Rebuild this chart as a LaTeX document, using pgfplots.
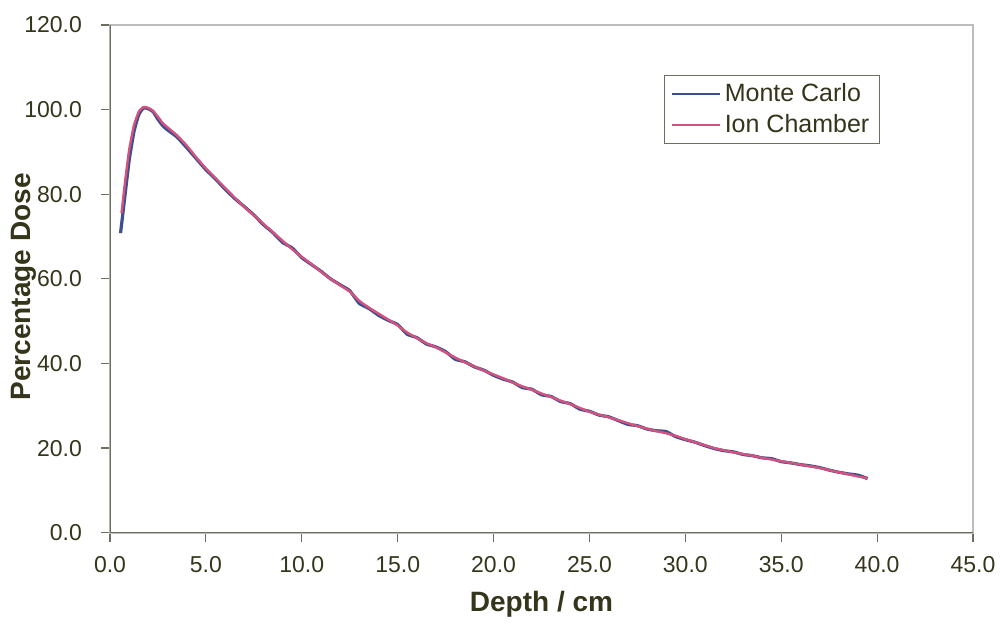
\documentclass[border=0pt]{standalone}
\usepackage{pgfplots}
\pgfplotsset{compat=1.18}
\usepackage{fontspec}
\setmainfont{Liberation Sans}
\definecolor{txt}{HTML}{35351C}
\definecolor{mcblue}{HTML}{3C4F8E}
\definecolor{icpink}{HTML}{D4527E}
\definecolor{axdark}{HTML}{6E6E60}
\definecolor{axlight}{HTML}{BDBDBD}
\pgfplotstableread{
x y
0.55 70.8
0.75 78.5
1.0 88.0
1.25 94.8
1.5 98.8
1.75 100.4
2.0 100.2
2.25 99.5
2.5 97.7
2.75 96.2
3.0 95.2
3.5 93.5
4.0 91.0
4.5 88.4
5.0 85.8
5.5 83.6
6.0 81.2
6.5 79.0
7.0 77.1
7.5 75.1
8.0 72.8
8.5 70.9
9.0 68.6
9.5 67.3
10.0 65.0
10.5 63.4
11.0 61.8
11.5 60.0
12.0 58.6
12.5 57.2
13.0 54.2
13.5 53.0
14.0 51.4
14.5 50.2
15.0 49.2
15.5 46.9
16.0 46.1
16.5 44.6
17.0 43.9
17.5 42.8
18.0 41.0
18.5 40.4
19.0 39.2
19.5 38.4
20.0 37.2
20.5 36.3
21.0 35.6
21.5 34.3
22.0 33.9
22.5 32.6
23.0 32.2
23.5 31.0
24.0 30.5
24.5 29.2
25.0 28.7
25.5 27.8
26.0 27.4
26.5 26.5
27.0 25.6
27.5 25.3
28.0 24.5
28.5 24.1
29.0 23.9
29.5 22.7
30.0 22.0
30.5 21.4
31.0 20.6
31.5 19.9
32.0 19.4
32.5 19.1
33.0 18.5
33.5 18.2
34.0 17.7
34.5 17.5
35.0 16.8
35.5 16.5
36.0 16.1
36.5 15.8
37.0 15.4
37.5 14.8
38.0 14.3
38.5 13.9
39.0 13.6
39.5 12.8
}\mcdata
\pgfplotstableread{
x y
0.6 75.5
0.8 83.5
1.0 90.5
1.25 96.3
1.5 99.5
1.75 100.6
2.0 100.4
2.25 99.7
2.5 98.3
2.75 96.8
3.0 95.8
3.5 93.9
4.0 91.5
4.5 88.7
5.0 86.1
5.5 83.8
6.0 81.5
6.5 79.2
7.0 77.0
7.5 75.0
8.0 73.0
8.5 71.0
9.0 69.0
9.5 67.0
10.0 65.2
10.5 63.5
11.0 61.7
11.5 60.0
12.0 58.5
12.5 57.0
13.0 54.8
13.5 53.2
14.0 51.8
14.5 50.4
15.0 49.0
15.5 47.3
16.0 46.0
16.5 44.8
17.0 43.8
17.5 42.6
18.0 41.4
18.5 40.3
19.0 39.3
19.5 38.3
20.0 37.4
20.5 36.5
21.0 35.5
21.5 34.6
22.0 33.8
22.5 32.9
23.0 32.1
23.5 31.2
24.0 30.4
24.5 29.5
25.0 28.6
25.5 27.9
26.0 27.3
26.5 26.6
27.0 25.9
27.5 25.2
28.0 24.6
28.5 24.0
29.0 23.5
29.5 22.9
30.0 22.1
30.5 21.4
31.0 20.7
31.5 20.0
32.0 19.5
32.5 19.0
33.0 18.6
33.5 18.2
34.0 17.7
34.5 17.3
35.0 16.9
35.5 16.5
36.0 16.1
36.5 15.7
37.0 15.3
37.5 14.8
38.0 14.3
38.5 13.8
39.0 13.3
39.5 12.9
}\icdata
\begin{document}
\begin{tikzpicture}
\useasboundingbox (-55pt,-50.15pt) rectangle (445pt,266.35pt);
\begin{axis}[
  at={(0,0)}, anchor=south west,
  scale only axis, width=431.5pt, height=253.85pt,
  xmin=0, xmax=45, ymin=0, ymax=120,
  xtick={0,5,...,45}, ytick={0,20,...,120},
  tick pos=left, tick align=outside,
  major tick length=4.5pt,
  tick style={axdark, line width=0.6pt},
  axis line style={axlight, line width=0.8pt},
  /pgf/number format/.cd, fixed, fixed zerofill, precision=1, assume math mode=true,
  /pgfplots/.cd,
  ticklabel style={font=\fontsize{11.5}{13}\selectfont, text=txt},
  xticklabel style={yshift=-4pt},
  yticklabel style={xshift=-6pt},
  xlabel={\textbf{Depth / cm}},
  ylabel={\textbf{Percentage Dose}},
  label style={font=\fontsize{14}{16}\selectfont, text=txt},
  xlabel style={at={(axis description cs:0.5,0)}, anchor=center, yshift=-36pt},
  ylabel style={at={(axis description cs:-0.1,0.484)}, anchor=center},
  legend style={at={(axis description cs:0.892,0.9015)}, anchor=north east,
    draw=axdark, line width=0.5pt, font=\fontsize{12.5}{15}\selectfont, text=txt,
    inner xsep=3pt, inner ysep=2pt, row sep=1pt, legend cell align=left},
  legend image code/.code={\draw[#1, line width=1.1pt] (0pt,0pt) -- (24pt,0pt);},
]
\addplot[mcblue, line width=1.6pt, smooth, tension=0.3] table {\mcdata};
\addlegendentry{Monte Carlo}
\addplot[icpink, line width=1.2pt, smooth, tension=0.3] table {\icdata};
\addlegendentry{Ion Chamber}
\draw[axdark, line width=0.8pt] (rel axis cs:0,0) -- (rel axis cs:0,1);
\draw[axdark, line width=0.8pt] (rel axis cs:0,0) -- (rel axis cs:1,0);
\end{axis}
\end{tikzpicture}
\end{document}
